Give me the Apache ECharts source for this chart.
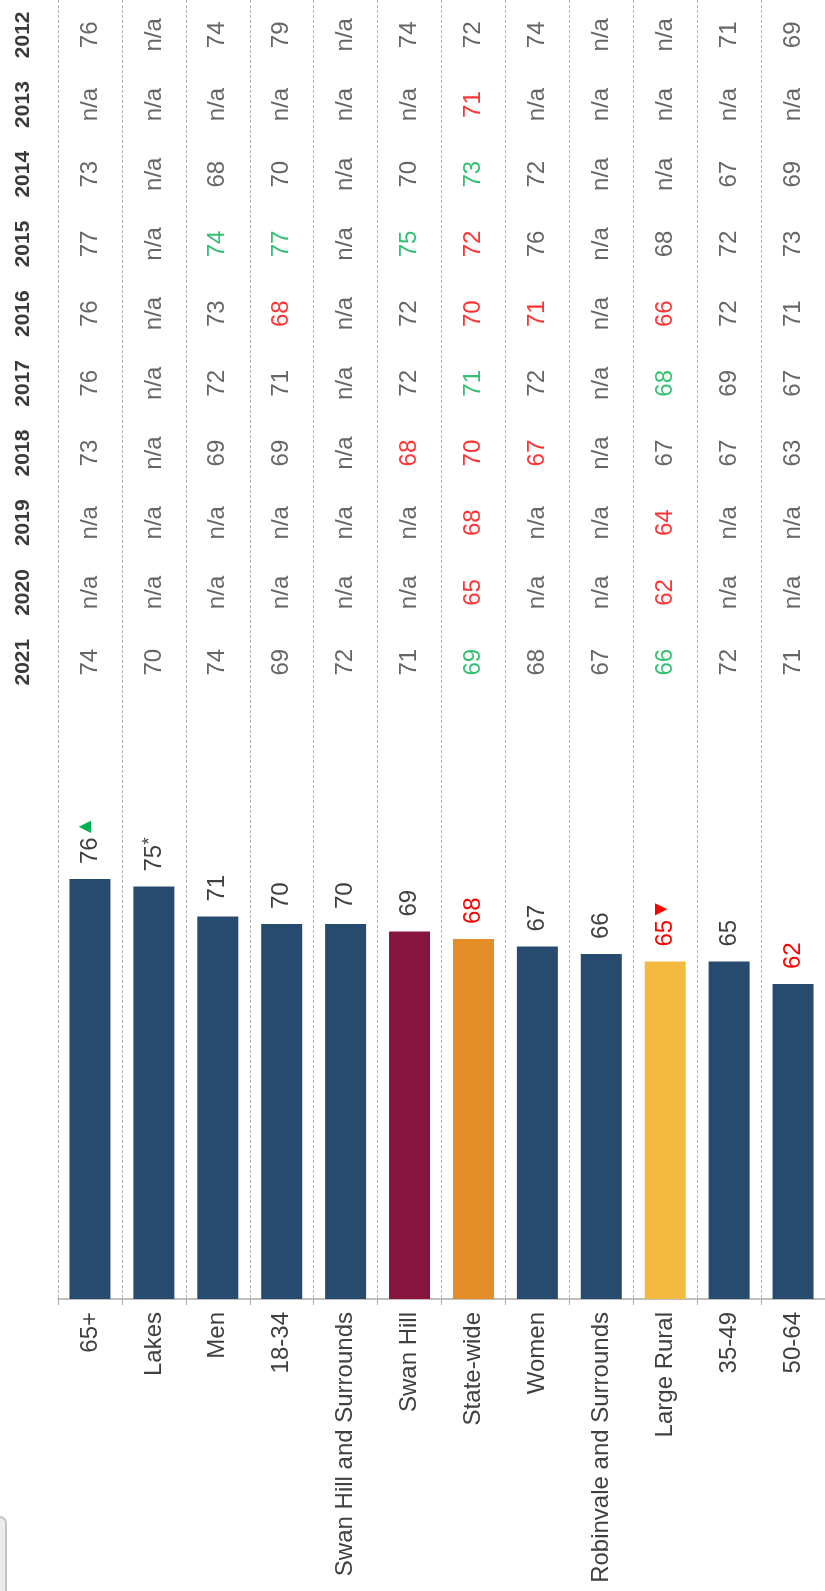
<!DOCTYPE html>
<html>
<head>
<meta charset="utf-8">
<title>Index scores by group</title>
<script src="https://cdn.jsdelivr.net/npm/echarts@6/dist/echarts.min.js"></script>
<style>
  html, body { margin: 0; padding: 0; background: #ffffff; }
  #chart { width: 825px; height: 1591px; }
</style>
</head>
<body>
<div id="chart"></div>
<script>
// ---- data ----
const categories = ['65+', 'Lakes', 'Men', '18-34', 'Swan Hill and Surrounds', 'Swan Hill',
  'State-wide', 'Women', 'Robinvale and Surrounds', 'Large Rural', '35-49', '50-64'];

// 2022 scores drawn as bars
const scores = [76, 75, 71, 70, 70, 69, 68, 67, 66, 65, 65, 62];
// footnote mark after a score ('*')
const scoreNotes = ['', '*', '', '', '', '', '', '', '', '', '', ''];
// score significantly higher/lower than the comparison group: 'up', 'down' or ''
const scoreSig = ['', '', '', '', '', '', 'down', '', '', 'down', '', 'down'];
// change since the previous result: 'up', 'down' or ''
const scoreTrend = ['up', '', '', '', '', '', '', '', '', 'down', '', ''];

// past results table (null = not available)
const years = ['2021', '2020', '2019', '2018', '2017', '2016', '2015', '2014', '2013', '2012'];
const r2021 = [74, 70, 74, 69, 72, 71, 69, 68, 67, 66, 72, 71];
const r2020 = [null, null, null, null, null, null, 65, null, null, 62, null, null];
const r2019 = [null, null, null, null, null, null, 68, null, null, 64, null, null];
const r2018 = [73, null, 69, 69, null, 68, 70, 67, null, 67, 67, 63];
const r2017 = [76, null, 72, 71, null, 72, 71, 72, null, 68, 69, 67];
const r2016 = [76, null, 73, 68, null, 72, 70, 71, null, 66, 72, 71];
const r2015 = [77, null, 74, 77, null, 75, 72, 76, null, 68, 72, 73];
const r2014 = [73, null, 68, 70, null, 70, 73, 72, null, null, 67, 69];
const r2013 = [null, null, null, null, null, null, 71, null, null, null, null, null];
const r2012 = [76, null, 74, 79, null, 74, 72, 74, null, null, 71, 69];

// significance of each past result: 'u' = up, 'd' = down, '.' = none
const s2021 = '......u..u..';
const s2020 = '......d..d..';
const s2019 = '......d..d..';
const s2018 = '.....ddd....';
const s2017 = '......u..u..';
const s2016 = '...d..dd.d..';
const s2015 = '..uu.ud.....';
const s2014 = '......u.....';
const s2013 = '......d.....';
const s2012 = '............';

// ---- styling ----
const BASE = '#274b6e';
const barColours = {
  'Swan Hill': '#87153f',
  'State-wide': '#e38e28',
  'Large Rural': '#f4b93f'
};
const TEXT = '#404040';
const UP = '#00b050';
const DOWN = '#ff0000';
const FONT = '"Liberation Sans", Arial, sans-serif';
const FS = 24;

const rows = [r2021, r2020, r2019, r2018, r2017, r2016, r2015, r2014, r2013, r2012];
const sigRows = [s2021, s2020, s2019, s2018, s2017, s2016, s2015, s2014, s2013, s2012];

function sigColour(code) {
  if (code === 'u' || code === 'up') return UP;
  if (code === 'd' || code === 'down') return DOWN;
  return TEXT;
}

const barData = scores.map((v, i) => ({
  value: v,
  itemStyle: { color: barColours[categories[i]] || BASE }
}));

const tableData = [];
rows.forEach((row, yi) => {
  row.forEach((v, ci) => {
    tableData.push({
      value: [ci, yi],
      label: { color: v === null ? TEXT : sigColour(sigRows[yi][ci]) },
      text: v === null ? 'n/a' : String(v)
    });
  });
});

const chart = echarts.init(document.getElementById('chart'), null, { renderer: 'canvas' });

const gridLeft = 58, gridRight = -8;

chart.setOption({
  backgroundColor: '#ffffff',
  animation: false,
  textStyle: { fontFamily: FONT },
  grid: [
    { left: gridLeft, right: gridRight, top: 0, bottom: 292 },
    { left: gridLeft, right: gridRight, top: -1, height: 698 }
  ],
  xAxis: [
    {
      type: 'category',
      gridIndex: 0,
      data: categories,
      axisLine: { lineStyle: { color: '#aaaaaa', width: 1.5 } },
      axisTick: { show: true, length: 6, lineStyle: { color: '#aaaaaa' } },
      splitLine: { show: true, lineStyle: { color: '#b5b5b5', type: [3, 2], width: 1 } },
      axisLabel: {
        rotate: 90, margin: 13, color: TEXT, fontSize: FS, fontFamily: FONT, interval: 0
      }
    },
    {
      type: 'category',
      gridIndex: 1,
      data: categories,
      show: false
    }
  ],
  yAxis: [
    {
      type: 'value',
      gridIndex: 0,
      min: 20,
      max: 20 + 1299 / 7.5,
      show: false
    },
    {
      type: 'category',
      gridIndex: 1,
      data: years,
      axisLine: { show: false },
      axisTick: { show: false },
      splitLine: { show: false },
      axisLabel: {
        rotate: 90, margin: 24, color: '#3a3a3a', fontSize: 21, fontWeight: 'bold', fontFamily: FONT
      }
    }
  ],
  series: [
    {
      type: 'bar',
      xAxisIndex: 0,
      yAxisIndex: 0,
      data: barData,
      barWidth: 41,
      label: {
        show: true,
        position: 'top',
        distance: 15,
        rotate: 90,
        align: 'left',
        verticalAlign: 'middle',
        fontFamily: FONT,
        formatter: p => {
          const i = p.dataIndex;
          const style = scoreSig[i] === 'up' ? 'u' : scoreSig[i] === 'down' ? 'd' : 'n';
          let s = '{' + style + '|' + scores[i] + '}';
          if (scoreNotes[i]) s += '{note|' + scoreNotes[i] + '}';
          if (scoreTrend[i] === 'up') s += '{tu|▲}';
          if (scoreTrend[i] === 'down') s += '{td|▼}';
          return s;
        },
        rich: {
          n: { color: TEXT, fontSize: FS, fontFamily: FONT },
          u: { color: UP, fontSize: FS, fontFamily: FONT },
          d: { color: DOWN, fontSize: FS, fontFamily: FONT },
          note: { color: TEXT, fontSize: 19, fontFamily: FONT, padding: [0, 0, 8, 0] },
          tu: { color: UP, fontSize: 21, fontFamily: FONT, padding: [0, 0, 9, 0] },
          td: { color: DOWN, fontSize: 21, fontFamily: FONT, padding: [0, 0, 9, 0] }
        }
      }
    },
    {
      type: 'scatter',
      xAxisIndex: 1,
      yAxisIndex: 1,
      symbolSize: 0,
      data: tableData,
      label: {
        show: true,
        position: 'inside',
        rotate: 90,
        align: 'center',
        verticalAlign: 'middle',
        fontSize: FS,
        fontFamily: FONT,
        formatter: p => p.data.text
      },
      emphasis: { disabled: true }
    }
  ],
  graphic: [
    {
      type: 'rect',
      shape: { x: -20, y: 1517, width: 26, height: 120, r: 6 },
      style: { fill: '#ececec', stroke: '#c4c4c4', lineWidth: 2 },
      silent: true
    }
  ]
});
</script>
</body>
</html>
